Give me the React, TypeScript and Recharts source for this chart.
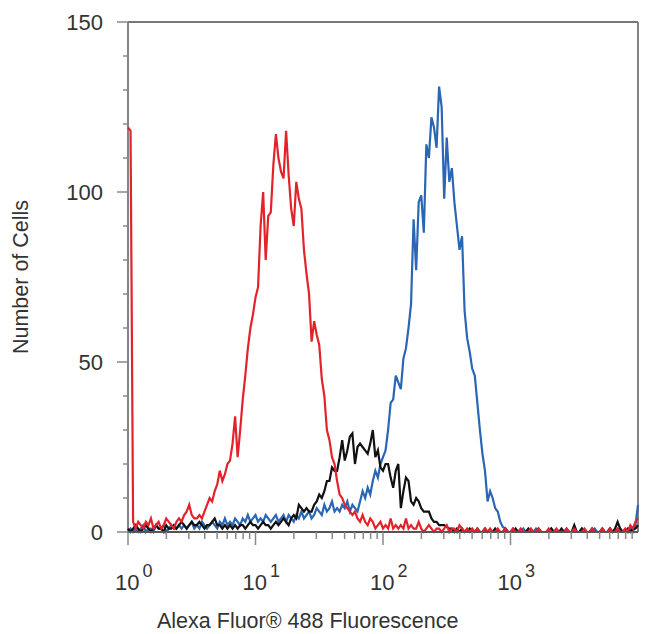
import React from 'react';
import { LineChart, Line, XAxis, YAxis, ReferenceLine, Label } from 'recharts';

const FONT = '"Liberation Sans", Arial, Helvetica, sans-serif';
const BINS_PER_DECADE = 50;

// Counts per log-spaced channel (bin i sits at 10^(i/50))
const redCounts = [
  119, 118, 3, 1, 3, 2, 1, 3, 2, 4,
  1, 2, 3, 1, 2, 4, 3, 2, 1, 3,
  4, 3, 5, 6, 8, 5, 4, 4, 5, 4,
  6, 8, 10, 9, 12, 14, 18, 15, 17, 20,
  21, 26, 34, 22, 30, 39, 46, 54, 60, 64,
  69, 72, 90, 100, 80, 93, 94, 108, 117, 110,
  106, 104, 118, 105, 95, 90, 103, 98, 95, 83,
  76, 70, 56, 62, 58, 55, 45, 40, 30, 27,
  22, 20, 15, 11, 10, 8, 7, 6, 5, 6,
  4, 3, 5, 3, 2, 4, 3, 1, 2, 3,
  1, 2, 1, 4, 1, 2, 1, 2, 1, 4,
  1, 2, 1, 1, 3, 1, 0, 1, 2, 1,
  0, 1, 1, 0, 1, 2, 0, 1, 1, 0,
  2, 1, 0, 1, 0, 1, 0, 1, 0, 0,
  1, 0, 1, 0, 0, 1, 0, 0, 1, 0,
  0, 1, 0, 0, 1, 0, 0, 0, 1, 0,
  0, 1, 0, 0, 0, 1, 0, 0, 1, 0,
  0, 0, 1, 0, 0, 1, 0, 0, 0, 1,
  0, 0, 1, 0, 0, 0, 1, 0, 0, 1,
  0, 0, 1, 0, 0, 1, 0, 2, 1, 3, 4,
];

const blueCounts = [
  0, 1, 0, 1, 0, 1, 2, 0, 1, 1,
  0, 2, 1, 1, 2, 0, 1, 2, 1, 1,
  2, 1, 2, 1, 2, 3, 1, 2, 1, 3,
  2, 1, 2, 3, 2, 1, 3, 2, 4, 2,
  3, 2, 4, 3, 2, 4, 3, 5, 3, 4,
  5, 3, 4, 3, 5, 4, 3, 4, 5, 3,
  4, 5, 3, 5, 4, 3, 5, 4, 6, 4,
  5, 6, 4, 5, 7, 6, 5, 8, 6, 7,
  9, 6, 7, 6, 8, 7, 9, 6, 8, 7,
  6, 9, 12, 10, 13, 11, 15, 18, 16, 20,
  22, 24, 30, 38, 39, 46, 44, 42, 51, 54,
  60, 67, 92, 77, 97, 99, 88, 114, 110, 122,
  119, 113, 131, 125, 98, 116, 103, 107, 97, 90,
  83, 87, 65, 57, 53, 48, 46, 38, 30, 23,
  18, 9, 12, 10, 7, 6, 3, 1.5, 1, 0,
  0, 1, 0, 0, 0, 1, 0, 0, 0, 0,
  1, 0, 0, 0, 0, 0, 1, 0, 0, 0,
  0, 0, 1, 0, 0, 0, 0, 0, 1, 0,
  0, 0, 0, 1, 0, 0, 0, 0, 0, 1,
  0, 0, 0, 1, 0, 0, 0, 1, 0, 2, 8,
];

const blackCounts = [
  1, 0, 1, 2, 1, 0, 1, 2, 1, 0,
  1, 2, 1, 1, 0, 2, 1, 1, 2, 1,
  2, 3, 2, 1, 2, 3, 2, 2, 3, 2,
  1, 2, 2, 3, 4, 2, 2, 1, 2, 1,
  2, 1, 2, 1, 2, 2, 1, 2, 3, 2,
  2, 1, 2, 3, 2, 2, 1, 2, 3, 2,
  3, 4, 3, 2, 4, 5, 4, 8, 7, 6,
  7, 6, 6, 8, 9, 11, 10, 12, 15, 15,
  19, 18, 18, 22, 27, 21, 24, 28, 29, 20,
  25, 26, 25, 24, 23, 26, 30, 22, 24, 19,
  18, 20, 20, 16, 13, 18, 20, 7, 12, 16,
  15, 9, 8, 10, 9, 7, 6, 6, 6, 4,
  3, 3, 2, 2, 2, 1.5, 1, 1, 0, 1,
  0, 1, 0, 0, 1, 0, 0, 1, 0, 0,
  1, 0, 0, 0, 1, 0, 0, 0, 1, 0,
  0, 0, 1, 0, 0, 0, 0, 1, 0, 0,
  0, 1, 0, 0, 0, 0, 1, 0, 0, 0,
  1, 0, 0, 0, 0, 2, 0, 0, 1, 0,
  0, 0, 1, 0, 0, 0, 1, 0, 0, 1,
  0, 1, 3, 1, 0, 0, 1, 0, 1, 1, 2,
];

const xMajorTicks = [1, 10, 100, 1000];
const xMinorMultipliers = [2, 3, 4, 5, 6, 7, 8, 9];
const yTicks = [0, 10, 20, 30, 40, 50, 60, 70, 80, 90, 100, 110, 120, 130, 140, 150];
const yMajorTicks = [0, 50, 100, 150];

const xTicks = xMajorTicks.flatMap((m) => [m, ...xMinorMultipliers.map((k) => m * k)]);

const data = redCounts.map((r, i) => ({
  fl: Math.pow(10, i / BINS_PER_DECADE),
  red: r,
  blue: blueCounts[i],
  black: blackCounts[i],
}));

const XTick = (props: any) => {
  const { x, y, payload } = props;
  const v = payload.value;
  const isMajor = xMajorTicks.includes(v);
  const exp = Math.round(Math.log10(v));
  return (
    <g>
      <line x1={x} x2={x} y1={y} y2={y + (isMajor ? 13 : 7)} stroke="#888" strokeWidth={1.5} />
      {isMajor && (
        <text x={x - 13} y={y + 58} fontSize={22} fill="#333" fontFamily={FONT}>
          10
          <tspan dx={3} dy={-13} fontSize={18}>
            {exp}
          </tspan>
        </text>
      )}
    </g>
  );
};

const YTick = (props: any) => {
  const { x, y, payload } = props;
  const isMajor = yMajorTicks.includes(payload.value);
  return (
    <g>
      <line x1={x - (isMajor ? 11 : 5)} x2={x} y1={y} y2={y} stroke="#888" strokeWidth={1.5} />
      {isMajor && (
        <text x={x - 25} y={y + 8} textAnchor="end" fontSize={22} fill="#333" fontFamily={FONT}>
          {payload.value}
        </text>
      )}
    </g>
  );
};

export default function App() {
  return (
    <div style={{ position: 'absolute', left: 0, top: 0, background: '#fff' }}>
      <LineChart
        width={650}
        height={634}
        data={data}
        margin={{ top: 22, right: 12, bottom: 0, left: 0 }}
      >
        <XAxis
          dataKey="fl"
          type="number"
          scale="log"
          domain={[1, 10000]}
          ticks={xTicks}
          interval={0}
          height={102}
          tickSize={0}
          tickMargin={0}
          tickLine={false}
          tick={<XTick />}
          axisLine={{ stroke: '#555', strokeWidth: 1.8 }}
        >
          <Label
            content={() => (
              <text x={157} y={628} fontSize={21.5} fill="#333" fontFamily={FONT}>
                Alexa Fluor® 488 Fluorescence
              </text>
            )}
          />
        </XAxis>
        <YAxis
          type="number"
          domain={[0, 150]}
          ticks={yTicks}
          interval={0}
          width={128}
          tickSize={0}
          tickMargin={0}
          tickLine={false}
          tick={<YTick />}
          axisLine={false}
        >
          <Label
            content={() => (
              <text
                x={28}
                y={277}
                transform="rotate(-90 28 277)"
                textAnchor="middle"
                fontSize={21.5}
                fill="#333"
                fontFamily={FONT}
              >
                Number of Cells
              </text>
            )}
          />
        </YAxis>
        <ReferenceLine x={1} stroke="#777" strokeWidth={1.8} />
        <ReferenceLine y={150} stroke="#777" strokeWidth={1.8} />
        <ReferenceLine x={10000} stroke="#777" strokeWidth={1.8} />
        <Line
          dataKey="blue"
          type="linear"
          stroke="#2a66b3"
          strokeWidth={2.2}
          dot={false}
          activeDot={false}
          isAnimationActive={false}
        />
        <Line
          dataKey="black"
          type="linear"
          stroke="#111111"
          strokeWidth={2.2}
          dot={false}
          activeDot={false}
          isAnimationActive={false}
        />
        <Line
          dataKey="red"
          type="linear"
          stroke="#e3232b"
          strokeWidth={2.2}
          dot={false}
          activeDot={false}
          isAnimationActive={false}
        />
      </LineChart>
    </div>
  );
}
